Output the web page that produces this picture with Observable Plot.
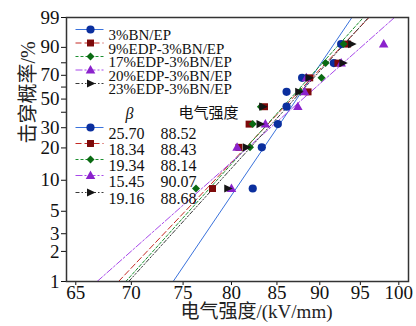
<!DOCTYPE html>
<html><head><meta charset="utf-8">
<script src="https://cdn.jsdelivr.net/npm/d3@7"></script>
<script src="https://cdn.jsdelivr.net/npm/@observablehq/plot@0.6"></script>
<style>body{margin:0;background:#fff}#chart{width:416px;height:326px}</style>
</head><body><div id="chart"></div>
<script>
// ---- data ----
const series = ["3%BN/EP", "9%EDP-3%BN/EP", "17%EDP-3%BN/EP", "20%EDP-3%BN/EP", "23%EDP-3%BN/EP"];
const beta = [25.70, 18.34, 19.34, 15.45, 19.16];
const eta = [88.52, 88.43, 88.14, 90.07, 88.68];
const betaLabels = ["25.70", "18.34", "19.34", "15.45", "19.16"];
const etaLabels = ["88.52", "88.43", "88.14", "90.07", "88.68"];
// breakdown probability (%) of the 8 ranked samples
const probability = [8.33, 20.24, 32.14, 44.05, 55.95, 67.86, 79.76, 91.67];
// breakdown strength (kV/mm), ranked
const bn3 = [82.3, 83.3, 85.1, 86.1, 86.1, 87.9, 91.7, 92.6];
const edp9 = [78.0, 80.8, 81.9, 83.6, 88.6, 88.8, 92.2, 93.4];
const edp17 = [76.3, 82.0, 82.3, 83.2, 87.7, 90.2, 90.7, 92.9];
const edp20 = [80.0, 80.6, 83.7, 87.4, 88.2, 88.4, 92.6, 98.0];
const edp23 = [79.6, 81.6, 83.1, 83.4, 87.5, 88.7, 92.8, 93.9];
const xTicks = [65, 70, 75, 80, 85, 90, 95, 100];
const yTicks = [1, 2, 3, 5, 10, 20, 30, 40, 50, 60, 70, 80, 90, 99];
const yLabeled = [1, 2, 3, 5, 10, 20, 30, 50, 70, 90, 99];
const yRange = [1, 99];

// ---- styling ----
const strengths = [bn3, edp9, edp17, edp20, edp23];
const markColors = ["#0b2f9e", "#7d0a0a", "#0a6a12", "#8b22cc", "#141414"];
const lineColors = ["#3a72dc", "#c42a24", "#1c9030", "#a848ea", "#3a3a3a"];
const dashes = [null, "6,3", "3,2", "7,2,2,2", "4,2,1.5,2,1.5,2"];
const font = "'Liberation Serif','Times New Roman','Noto Sans CJK SC',serif";

const W = p => Math.log(-Math.log(1 - p / 100));

function poly(pts) {
  return {draw(ctx, size) {
    const r = Math.sqrt(size / Math.PI);
    ctx.moveTo(pts[0][0] * r, pts[0][1] * r);
    for (let i = 1; i < pts.length; i++) ctx.lineTo(pts[i][0] * r, pts[i][1] * r);
    ctx.closePath();
  }};
}
const symbols = [
  d3.symbolCircle,
  poly([[-0.85, -0.85], [0.85, -0.85], [0.85, 0.85], [-0.85, 0.85]]),
  poly([[0, -1], [1, 0], [0, 1], [-1, 0]]),
  poly([[0, -1], [0.95, 0.68], [-0.95, 0.68]]),
  poly([[1, 0], [-0.7, -0.82], [-0.7, 0.82]])
];
const sizes = [4.1, 4.1, 4.0, 5.0, 5.0];
const lineSym = {draw(ctx) { ctx.moveTo(-14, 0); ctx.lineTo(14, 0); }};

const marks = [];
// fitted Weibull lines
series.forEach((s, i) => {
  const fit = yRange.map(p => ({x: eta[i] * Math.exp(W(p) / beta[i]), y: W(p)}));
  marks.push(Plot.line(fit, {x: "x", y: "y", stroke: lineColors[i], strokeWidth: 1, strokeDasharray: dashes[i], clip: true}));
});
// data points
series.forEach((s, i) => {
  const pts = probability.map((p, k) => ({x: strengths[i][k], y: W(p)}));
  marks.push(Plot.dot(pts, {x: "x", y: "y", symbol: symbols[i], r: sizes[i], fill: markColors[i], stroke: "none"}));
});
// legends
const rows1 = [12, 25.5, 39, 52.5, 66];
const rows2 = [110, 126, 142, 158, 175];
function legendKey(i, dy) {
  marks.push(Plot.dot([0], {frameAnchor: "top-left", dx: 23, dy, symbol: lineSym, r: 1, fill: "none", stroke: lineColors[i], strokeWidth: 1, strokeDasharray: dashes[i]}));
  marks.push(Plot.dot([0], {frameAnchor: "top-left", dx: 24, dy, symbol: symbols[i], r: sizes[i], fill: markColors[i], stroke: "none"}));
}
series.forEach((s, i) => {
  legendKey(i, rows1[i]);
  marks.push(Plot.text([s], {frameAnchor: "top-left", dx: 42, dy: rows1[i], text: d => d, textAnchor: "start", fontSize: 15, fontFamily: font, fill: "#111"}));
});
marks.push(Plot.text(["β"], {frameAnchor: "top-left", dx: 59, dy: 90, text: d => d, fontSize: 16, fontStyle: "italic", fontFamily: font, fill: "#111"}));
marks.push(Plot.text(["电气强度"], {frameAnchor: "top-left", dx: 112, dy: 90, text: d => d, fontSize: 15, fontFamily: font, fill: "#111"}));
series.forEach((s, i) => {
  legendKey(i, rows2[i]);
  marks.push(Plot.text([betaLabels[i]], {frameAnchor: "top-left", dx: 42, dy: rows2[i], text: d => d, textAnchor: "start", fontSize: 16, fontFamily: font, fill: "#111"}));
  marks.push(Plot.text([etaLabels[i]], {frameAnchor: "top-left", dx: 94, dy: rows2[i], text: d => d, textAnchor: "start", fontSize: 16, fontFamily: font, fill: "#111"}));
});
// axis titles
marks.push(Plot.text(["击穿概率/%"], {frameAnchor: "left", dx: -38, dy: -6, rotate: -90, text: d => d, fontSize: 20, fontFamily: font, fill: "#222"}));
marks.push(Plot.text(["电气强度/(kV/mm)"], {frameAnchor: "bottom", dx: 19, dy: 36, text: d => d, fontSize: 19, fontFamily: font, fill: "#222"}));
marks.push(Plot.frame({stroke: "#333", strokeWidth: 1.5}));

const chart = Plot.plot({
  width: 416, height: 326,
  marginLeft: 66, marginRight: 8, marginTop: 17, marginBottom: 45,
  style: {fontFamily: font, fontSize: "19px", color: "#111", background: "#fff"},
  x: {type: "log", domain: [64.2, 101.3], ticks: xTicks, tickFormat: d => String(d), tickSize: 4, tickPadding: 0, label: null},
  y: {type: "linear", domain: yRange.map(W), ticks: yTicks.map(W),
      tickFormat: w => { const p = yTicks.find(t => Math.abs(W(t) - w) < 1e-9); return yLabeled.includes(p) ? String(p) : ""; },
      tickSize: 5, tickPadding: 2, label: null},
  marks
});
document.getElementById("chart").appendChild(chart);
</script></body></html>
